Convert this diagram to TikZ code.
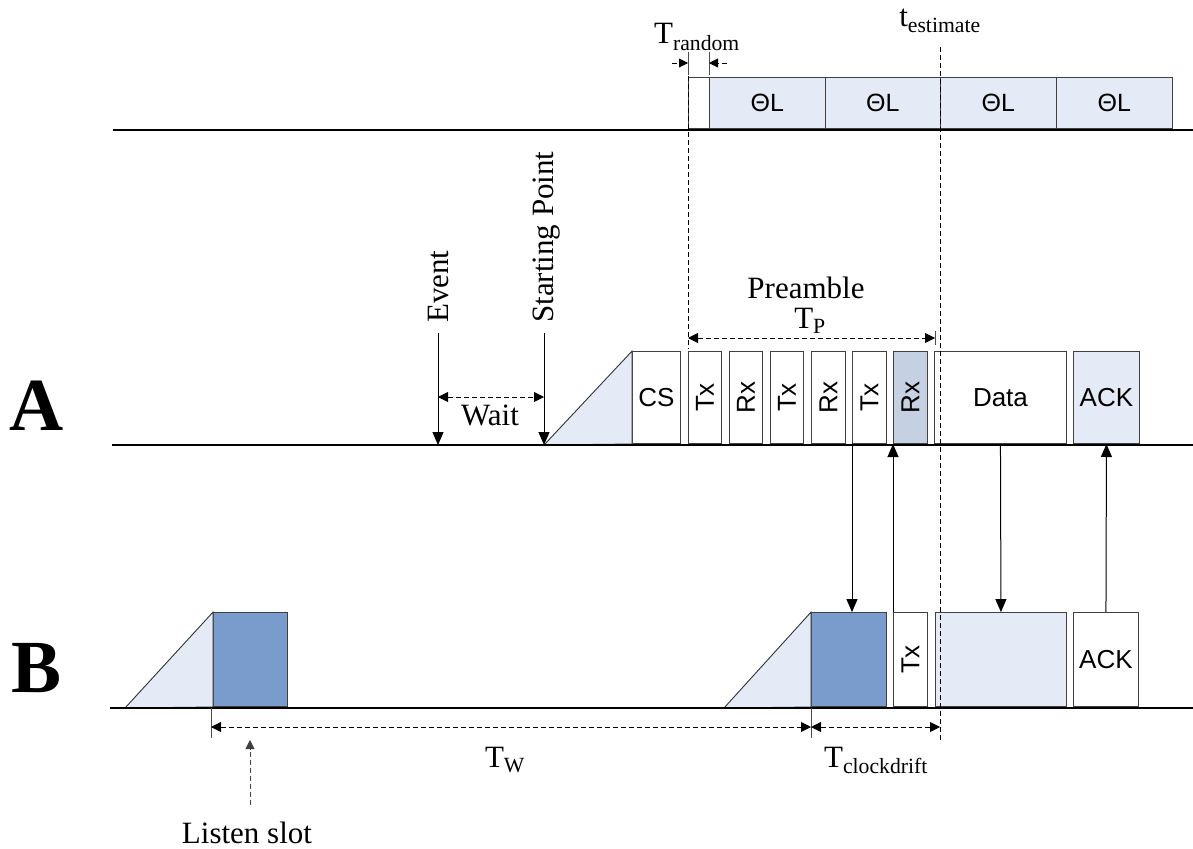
\documentclass[tikz,border=0pt]{standalone}
\usepackage{fontspec}
\setmainfont{Liberation Serif}
\setsansfont{Liberation Sans}
\usepackage{graphicx}
\usetikzlibrary{arrows.meta,positioning}
\definecolor{slotlight}{RGB}{228,235,246}
\definecolor{slotdark}{RGB}{122,156,204}
\definecolor{slotgrey}{RGB}{197,209,227}
\tikzset{
  slot/.style={draw=black!75, line width=0.9pt, anchor=south west, inner sep=0pt, minimum height=92pt, font=\sffamily\fontsize{26}{26}\selectfont},
  slotB/.style={slot, minimum height=94pt},
  slotT/.style={slot, minimum height=51pt, font=\sffamily\fontsize{25}{25}\selectfont},
  timeline/.style={line width=2pt},
  ramp/.style={draw=black!80, line width=0.9pt, fill=slotlight},
  sarr/.style={-{Triangle[length=13pt,width=11pt]}, line width=1pt},
  darr/.style={{Triangle[length=10pt,width=10pt]}-{Triangle[length=10pt,width=10pt]}, dash pattern=on 5pt off 3pt, line width=0.9pt},
  rarr/.style={-{Triangle[length=9pt,width=9pt]}, dash pattern=on 5pt off 3pt, line width=0.9pt},
  guide/.style={dash pattern=on 5pt off 3pt, line width=0.9pt},
  tick/.style={line width=0.9pt, black!70},
  lbl/.style={font=\fontsize{31}{31}\selectfont, inner sep=0pt},
  big/.style={font=\fontsize{75}{75}\selectfont\bfseries, inner sep=0pt}
}

\begin{document}
\begin{tikzpicture}[x=1pt,y=-1pt]
\useasboundingbox (0,0) rectangle (1193,848);

% top line
\node[slotT, minimum width=21pt, fill=white] (rnd) at (688,129) {};
\foreach \i/\x in {1/709,2/824.5,3/940,4/1056}
  \node[slotT, minimum width=115.7pt, fill=slotlight] (th\i) at (\x,129) {ΘL};
\draw[timeline] (113,130) -- (1193,130);

% node A
\node[slot, minimum width=48pt] (csA) at (632,444) {CS};
\node[slot, minimum width=33pt] (txA1) at (688,444) {\rotatebox{90}{Tx}};
\node[slot, minimum width=33pt] (rxA1) at (729,444) {\rotatebox{90}{Rx}};
\node[slot, minimum width=33pt] (txA2) at (770,444) {\rotatebox{90}{Tx}};
\node[slot, minimum width=34pt] (rxA2) at (811,444) {\rotatebox{90}{Rx}};
\node[slot, minimum width=34pt] (txA3) at (852,444) {\rotatebox{90}{Tx}};
\node[slot, minimum width=34pt, fill=slotgrey] (rxA3) at (893,444) {\rotatebox{90}{Rx}};
\node[slot, minimum width=132pt] (dataA) at (934,444) {Data};
\node[slot, minimum width=66pt, fill=slotlight] (ackA) at (1073,444) {ACK};
\filldraw[ramp] (544,445) -- (csA.north west) -- (csA.south west) -- cycle;
\draw[timeline] (112,445) -- (1193,445);
\node[big, anchor=base] (nodeA) at (37,430) {A};

% node B
\node[slotB, minimum width=74pt, fill=slotdark] (listenB) at (213,707) {};
\node[slotB, minimum width=75pt, fill=slotdark] (rxB) at (811,707) {};
\node[slotB, minimum width=34pt] (txB) at (893,707) {\rotatebox{90}{Tx}};
\node[slotB, minimum width=131pt, fill=slotlight] (dataB) at (935,707) {};
\node[slotB, minimum width=65pt] (ackB) at (1073,707) {ACK};
\filldraw[ramp] (125,708) -- (listenB.north west) -- (listenB.south west) -- cycle;
\filldraw[ramp] (724,708) -- (rxB.north west) -- (rxB.south west) -- cycle;
\draw[timeline] (110,708) -- (1193,708);
\node[big, anchor=base] (nodeB) at (37,692) {B};

% exchanges
\draw[sarr] (txA3.south west) -- (txA3.south west |- rxB.north);
\draw[sarr] (txB.north west) -- (txB.north west |- rxA3.south);
\draw[sarr] (dataA.south) -- (dataB.north);
\draw[sarr] (ackB.north) -- (ackA.south);

% event and wait
\coordinate (evT) at (438,333); \coordinate (evB) at (438,445);
\coordinate (spT) at (544,333); \coordinate (spB) at (544,445);
\draw[sarr] (evT) -- (evB);
\draw[sarr] (spT) -- (spB);
\node[lbl, rotate=90, anchor=base west] (event) at (448,323) {Event};
\node[lbl, rotate=90, anchor=base west] (start) at (553,323) {Starting Point};
\coordinate (w1) at (438,397); \coordinate (w2) at (544,397);
\draw[darr] (w1) -- (w2);
\node[lbl, anchor=base] (wait) at (490,425) {Wait};

% preamble
\coordinate (p1) at (688,338); \coordinate (p2) at (935,338);
\draw[darr] (p1) -- (p2);
\draw[tick] (935,331) -- (935,345);
\node[lbl, anchor=base] (pre) at (806,298) {Preamble};
\node[lbl, anchor=base] (tp) at (810,328) {T\textsubscript{P}};

% random offset and estimate
\coordinate (g1) at (688,52); \coordinate (g2) at (688,349);
\draw[guide] (g1) -- (g2);
\draw[tick] (688,52) -- (688,75);
\draw[tick] (709,52) -- (709,75);
\coordinate (r1) at (672,63); \coordinate (r2) at (727,63);
\draw[rarr] (r1) -- (g1 |- r1);
\draw[rarr] (r2) -- (709,63);
\node[lbl, anchor=base] (trnd) at (697,44) {T\textsubscript{random}};
\coordinate (e1) at (940,47); \coordinate (e2) at (940,743);
\draw[guide] (e1) -- (e2);
\node[lbl, anchor=base] (test) at (940,27) {t\textsubscript{estimate}};

% wake-up interval
\coordinate (b1) at (211,727); \coordinate (b2) at (811,727); \coordinate (b3) at (940,727);
\draw[tick] (211,708) -- (211,738);
\draw[tick] (811,708) -- (811,738);
\draw[darr] (b1) -- (b2);
\draw[darr] (b2) -- (b3);
\node[lbl, anchor=base] (tw) at (505,767) {T\textsubscript{W}};
\node[lbl, anchor=base] (tcd) at (876,767) {T\textsubscript{clockdrift}};
\coordinate (ls1) at (250,805); \coordinate (ls2) at (250,740);
\draw[rarr, black!75] (ls1) -- (ls2);
\node[lbl, anchor=base] (listen) at (247,843) {Listen slot};
\end{tikzpicture}
\end{document}
